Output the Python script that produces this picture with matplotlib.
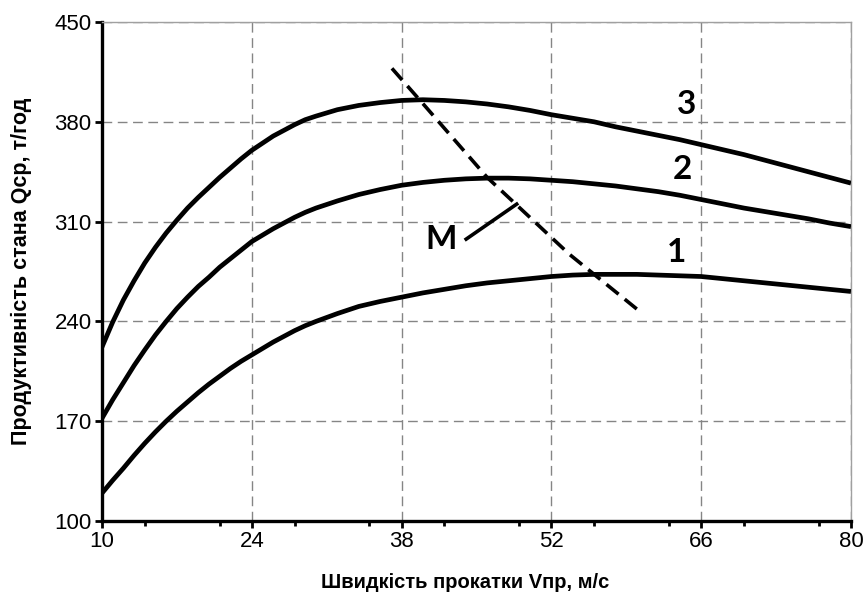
import matplotlib
matplotlib.use("Agg")
import matplotlib.pyplot as plt
from matplotlib.ticker import MultipleLocator

plt.rcParams["font.family"] = ["Liberation Sans", "DejaVu Sans"]

# Rolling speed, m/s
speed = [10, 11, 12, 13, 14, 15, 16, 17, 18, 19, 20, 21, 22, 23, 24, 25, 26, 27,
         28, 29, 30, 32, 34, 36, 38, 40, 42, 44, 46, 48, 50, 52, 54, 56, 58, 60,
         62, 64, 66, 68, 70, 72, 74, 76, 78, 80]

# Mill output, t/h, for the three regimes
q1 = [119.5, 128.5, 137, 146, 154.5, 162.5, 170, 177, 183.5, 190, 196, 201.5,
      207, 212, 216.5, 221, 225.5, 229.5, 233.5, 237, 240,
      245.5, 250.5, 254, 257, 260, 262.5, 265, 267, 268.5, 270, 271.5, 272.5,
      273, 273, 273, 272.5, 272, 271.5, 270, 268.5, 267, 265.5, 264, 262.5, 261]
q2 = [172, 185, 197, 209, 220, 230.5, 240, 249, 257, 264.5, 271, 278,
      284, 290, 296, 300.5, 305, 309, 313, 316.5, 319.5,
      324.5, 329, 332.5, 335.5, 337.5, 339, 340, 340.5, 340.5, 340, 339, 338,
      336.5, 335, 333, 331, 328.5, 325.5, 322.5, 319.5, 317, 314.5, 312, 309, 306.5]
q3 = [222, 239.5, 255, 268.5, 281, 292, 302, 311, 319.5, 327, 334, 341,
      347.5, 354, 360, 365, 370, 374, 378, 381.5, 384,
      388.5, 391.5, 393.5, 395, 395.5, 395, 394, 392.5, 390.5, 388, 385, 382.5,
      380, 376.5, 373.5, 370.5, 367.5, 364, 360.5, 357, 353, 349, 345, 341, 337]

# Locus of maxima (line M)
m_speed = [37.1, 40.2, 46.0, 53.7, 60.1]
m_output = [417.5, 391.0, 341.0, 287.0, 248.0]

# Leader from the "M" label to the locus line
leader_speed = [43.9, 48.9]
leader_output = [297.0, 323.0]

curve_labels = ["1", "2", "3"]
label_speed = [63.7, 64.2, 64.6]
label_output = [288.0, 346.5, 392.5]
m_label_pos = (41.7, 297.5)

x_ticks = [10, 24, 38, 52, 66, 80]
y_ticks = [100, 170, 240, 310, 380, 450]

fig = plt.figure(figsize=(8.67, 5.97), dpi=100)
ax = fig.add_axes([0.1176, 0.1273, 0.8639, 0.8358])

ax.set_xlim(10, 80)
ax.set_ylim(100, 450)
ax.set_xticks(x_ticks)
ax.set_yticks(y_ticks)
ax.xaxis.set_minor_locator(MultipleLocator(7))

ax.grid(True, which="major", color="#858585", linestyle=(0, (7, 4)), linewidth=1.0)
ax.set_axisbelow(True)

for side in ("left", "bottom"):
    ax.spines[side].set_linewidth(2.4)
    ax.spines[side].set_color("black")
for side in ("top", "right"):
    ax.spines[side].set_linewidth(1.0)
    ax.spines[side].set_color("#a0a0a0")

ax.tick_params(axis="both", which="major", direction="out", length=5, width=2,
               labelsize=16, colors="black", pad=2.5)
ax.tick_params(axis="x", which="minor", direction="out", length=3.5, width=2)
ax.tick_params(axis="y", which="minor", length=0)

for q in (q1, q2, q3):
    ax.plot(speed, q, color="black", linewidth=3.4, solid_capstyle="butt",
            solid_joinstyle="round", zorder=3)

ax.plot(m_speed, m_output, color="black", linewidth=2.6,
        linestyle=(0, (4.3, 2.2)), zorder=4)
ax.plot(leader_speed, leader_output, color="black", linewidth=2.6,
        solid_capstyle="butt", zorder=4)

for txt, xs, ys in zip(curve_labels, label_speed, label_output):
    ax.text(xs, ys, txt, fontsize=24, fontweight="bold", family="Lato",
            ha="center", va="center", zorder=5)
ax.text(*m_label_pos, "M", fontsize=24, fontweight="bold", family="Lato",
        ha="center", va="center", zorder=5)

ax.set_xlabel("Швидкість прокатки Vпр, м/с", fontsize=14.5, fontweight="bold",
              va="center")
ax.xaxis.set_label_coords(0.4846, -0.124)
ax.set_ylabel("Продуктивність стана Qср, т/год", fontsize=15.5, fontweight="bold",
              va="center")
ax.yaxis.set_label_coords(-0.108, 0.5)

fig.savefig("out.png", dpi=100)
